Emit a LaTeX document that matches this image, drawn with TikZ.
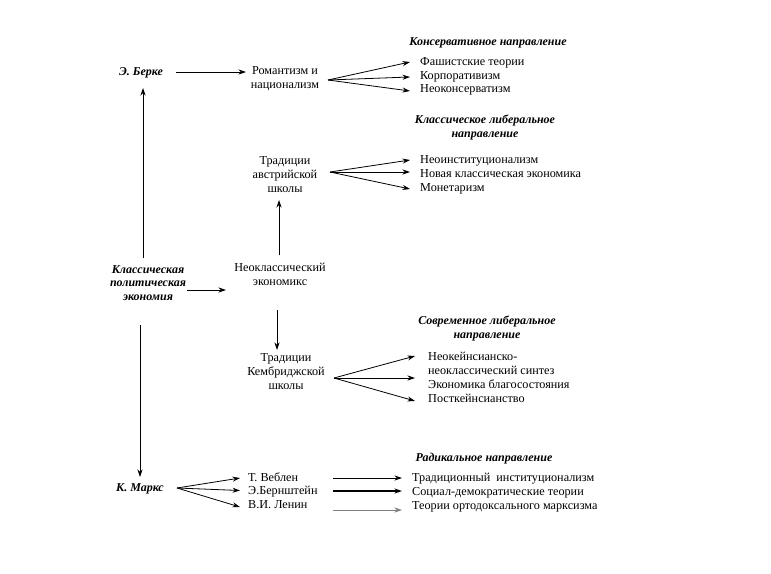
\documentclass[tikz,border=0pt]{standalone}
\usepackage{fontspec}
\setmainfont{Liberation Serif}
\usetikzlibrary{arrows.meta}
\begin{document}
\begin{tikzpicture}[x=1pt,y=-1pt,
 txt/.style={font=\fontsize{12.2}{14}\selectfont, inner sep=0pt, align=center},
 item/.style={font=\fontsize{12.2}{14}\selectfont, inner sep=0pt, anchor=west, text height=8.5pt, text depth=2.5pt},
 ttl/.style={font=\fontsize{12}{13.2}\selectfont\bfseries\itshape, inner sep=0pt, align=center},
 arr/.style={-{Stealth[length=7.5pt,width=5pt]}, line width=0.8pt},
]
\useasboundingbox (0,0) rectangle (771,573);
\fill[white] (0,0) rectangle (771,573);

% left column
\node[ttl] (berke) at (141,73) {Э. Берке};
\node[ttl] (cpe) at (148,283) {Классическая\\политическая\\экономия};
\node[ttl] (marx) at (140,489) {К. Маркс};

% middle column
\node[txt] (rom) at (285,79) {Романтизм и\\национализм};
\node[txt] (aus) at (285,175) {Традиции\\австрийской\\школы};
\node[txt] (neo) at (280,274.5) {Неоклассический\\экономикс};
\node[txt] (camb) at (286,372) {Традиции\\Кембриджской\\школы};
\node[item] (veb) at (248,478) {Т. Веблен};
\node[item] (bern) at (248,491.5) {Э.Бернштейн};
\node[item] (len) at (248,505) {В.И. Ленин};

% titles
\node[ttl] (t1) at (488,43) {Консервативное направление};
\node[ttl] (t2) at (485,127.5) {Классическое либеральное\\направление};
\node[ttl] (t3) at (487,328.5) {Современное либеральное\\направление};
\node[ttl] (t4) at (484,459) {Радикальное направление};

% right items
\node[item] (c1) at (420,62) {Фашистские теории};
\node[item] (c2) at (420,76) {Корпоративизм};
\node[item] (c3) at (420,89.5) {Неоконсерватизм};

\node[item] (l1) at (420,160) {Неоинституционализм};
\node[item] (l2) at (420,174) {Новая классическая экономика};
\node[item] (l3) at (420,188) {Монетаризм};

\node[item] (m1) at (428,357) {Неокейнсианско-};
\node[item] (m2) at (428,371) {неоклассический синтез};
\node[item] (m3) at (428,385) {Экономика благосостояния};
\node[item] (m4) at (428,399) {Посткейнсианство};

\node[item] (r1) at (412,478) {Традиционный\ \ институционализм};
\node[item] (r2) at (412,492) {Социал-демократические теории};
\node[item] (r3) at (412,506) {Теории ортодоксального марксизма};

% main connectors
\draw[arr, shorten <=35pt, shorten >=39pt] ([yshift=1pt]berke.center) -- ([yshift=7pt]rom.center);
\draw[arr, shorten <=25pt, shorten >=15pt] ([xshift=-5pt]cpe.center) -- ([xshift=2pt]berke.center);
\draw[arr, shorten <=42pt, shorten >=12pt] ([xshift=-8pt]cpe.center) -- (marx.center);
\draw[arr, shorten <=39pt, shorten >=54pt] ([yshift=-7pt]cpe.center) -- ([yshift=-15.5pt]neo.center);
\draw[arr, shorten <=19.5pt, shorten >=25pt] ([xshift=-1pt]neo.center) -- ([xshift=-6pt]aus.center);
\draw[arr, shorten <=35.5pt, shorten >=22pt] ([xshift=-3pt]neo.center) -- ([xshift=-9pt]camb.center);

% fans
\draw[arr] ([xshift=43pt,yshift=-1pt]rom.center) -- ([xshift=-10pt]c1.west);
\draw[arr] ([xshift=43pt,yshift=-1pt]rom.center) -- ([xshift=-10pt,yshift=-1pt]c2.west);
\draw[arr] ([xshift=43pt,yshift=-1pt]rom.center) -- ([xshift=-10pt,yshift=-1.5pt]c3.west);

\draw[arr] ([xshift=45pt,yshift=3pt]aus.center) -- ([xshift=-10pt]l1.west);
\draw[arr] ([xshift=45pt,yshift=3pt]aus.center) -- ([xshift=-10pt,yshift=2pt]l2.west);
\draw[arr] ([xshift=45pt,yshift=3pt]aus.center) -- ([xshift=-10pt,yshift=-1pt]l3.west);

\draw[arr] ([xshift=48pt,yshift=-6pt]camb.center) -- ([xshift=-13pt,yshift=1pt]m1.west);
\draw[arr] ([xshift=48pt,yshift=-6pt]camb.center) -- ([xshift=-13pt,yshift=-7pt]m2.west);
\draw[arr] ([xshift=48pt,yshift=-6pt]camb.center) -- ([xshift=-13pt,yshift=-2pt]m4.west);

\draw[arr] ([xshift=37pt,yshift=1pt]marx.center) -- ([xshift=-8pt]veb.west);
\draw[arr] ([xshift=37pt,yshift=1pt]marx.center) -- ([xshift=-8pt,yshift=1pt]bern.west);
\draw[arr] ([xshift=37pt,yshift=1pt]marx.center) -- ([xshift=-8pt,yshift=-2pt]len.west);

% radical arrows
\draw[arr] ([xshift=-79pt]r1.west) -- ([xshift=-10pt]r1.west);
\draw[arr, line width=1.5pt] ([xshift=-79pt,yshift=1pt]r2.west) -- ([xshift=-10pt,yshift=1pt]r2.west);
\draw[arr, draw=black!50, fill=black!50] ([xshift=-79pt,yshift=-4pt]r3.west) -- ([xshift=-10pt,yshift=-4pt]r3.west);
\end{tikzpicture}
\end{document}
